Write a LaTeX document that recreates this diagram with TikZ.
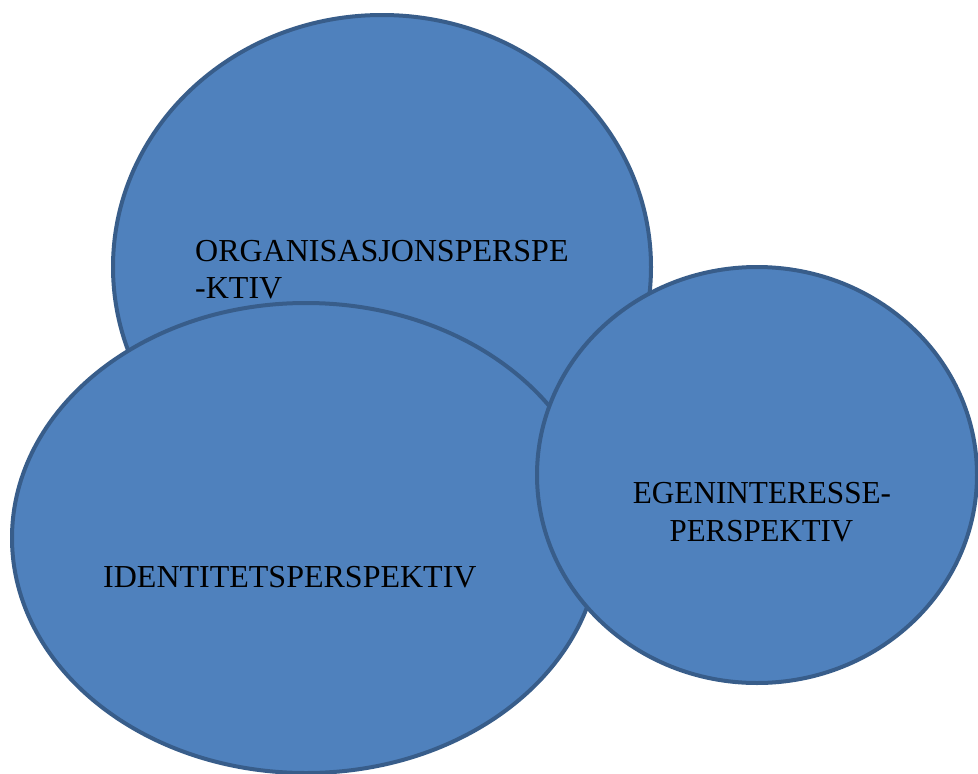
\documentclass[tikz,border=0pt]{standalone}
\usepackage{fontspec}
\setmainfont{Liberation Serif}
\usetikzlibrary{shapes.geometric}
\definecolor{blobfill}{HTML}{4F81BD}
\definecolor{blobline}{HTML}{385D8A}
\begin{document}
\begin{tikzpicture}[x=1pt,y=-1pt,
  blob/.style={ellipse,draw=blobline,fill=blobfill,line width=4pt,inner sep=0pt},
  lbl/.style={inner sep=0pt,font=\fontsize{32}{37.5}\selectfont,text=black}]
\useasboundingbox (0,0) rectangle (978,774);
\node[blob,minimum width=538pt,minimum height=504pt] (org) at (382,267) {};
\node[lbl,anchor=base west] (orgA) at (195,261) {ORGANISASJONSPERSPE};
\node[lbl,anchor=base west] (orgB) at (195,298.5) {-KTIV};
\node[blob,minimum width=588pt,minimum height=470pt] (ide) at (306,538) {};
\node[lbl,anchor=base west] (ideT) at (103,587) {IDENTITETSPERSPEKTIV};
\node[blob,minimum width=440pt,minimum height=416pt] (ege) at (757,475) {};
\node[lbl,anchor=base] (egeA) at (762,503.5) {\scalebox{0.975}[1]{EGENINTERESSE-}};
\node[lbl,anchor=base] (egeB) at (761.5,541) {\scalebox{0.965}[1]{PERSPEKTIV}};
\end{tikzpicture}
\end{document}
